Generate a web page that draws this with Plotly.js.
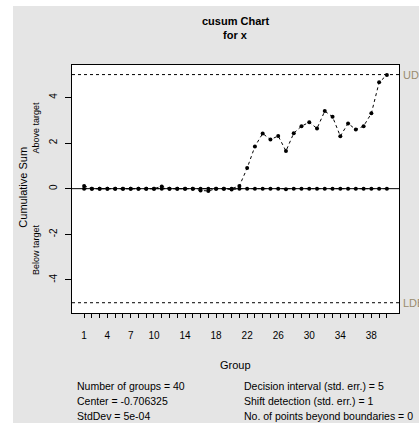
<!DOCTYPE html>
<html><head><meta charset="utf-8">
<script src="https://cdn.plot.ly/plotly-3.0.1.min.js"></script>
<style>html,body{margin:0;padding:0;background:#fff;}#wrap{position:absolute;left:13px;top:6px;width:406px;height:417px;}</style>
</head><body><div id="wrap"></div>
<script>
const groups = Array.from({length:40},(_,i)=>i+1);
const upperCusum = [0.12,0,0,0,0,0,0,0,0,0,0.1,0,0,0,0,0,0,0,0,0,0.12,0.9,1.85,2.42,2.15,2.31,1.65,2.43,2.74,2.91,2.64,3.40,3.15,2.30,2.86,2.59,2.74,3.30,4.66,4.98];
const lowerCusum = [0,0,0,0,0,0,0,0,0,0,0,0,0,0,0,-0.08,-0.1,0,0,-0.04,0,0,0,0,0,0,-0.03,0,0,0,0,0,0,0,0,0,0,0,0,0];
const tickLabels = {1:'1',4:'4',7:'7',10:'10',14:'14',18:'18',22:'22',26:'26',30:'30',34:'34',38:'38'};
const UDB = 5, LDB = -5, centerLine = 0;
const statsLeft = ['Number of groups = 40','Center = -0.706325','StdDev = 5e-04'];
const statsRight = ['Decision interval (std. err.) = 5','Shift detection (std. err.) = 1','No. of points beyond boundaries = 0'];

const F = 'Liberation Sans, Arial, sans-serif';
const traceStyle = {mode:'lines+markers', line:{color:'black', width:1, dash:'3px,3px'}, marker:{color:'black', size:4}, hoverinfo:'skip', showlegend:false, cliponaxis:false};
const data = [
  Object.assign({x:groups, y:upperCusum, type:'scatter'}, traceStyle),
  Object.assign({x:groups, y:lowerCusum, type:'scatter'}, traceStyle)
];
const statY = [-0.294,-0.355,-0.414];
function ann(o){ return Object.assign({xref:'paper', yref:'paper', showarrow:false, xanchor:'center', yanchor:'middle'}, o); }
const annotations = [
  ann({text:'<b>cusum Chart</b>', x:0.5, y:1.179, font:{family:F,size:11,color:'black'}}),
  ann({text:'<b>for x</b>', x:0.5, y:1.121, font:{family:F,size:11,color:'black'}}),
  ann({text:'Group', x:0.5, y:-0.21, font:{family:F,size:11,color:'black'}}),
  ann({text:'Cumulative Sum', x:-0.151, y:0.508, textangle:-90, font:{family:F,size:11,color:'black'}}),
  ann({text:'Above target', x:-0.110, y:0.748, textangle:-90, font:{family:F,size:9,color:'black'}}),
  ann({text:'Below target', x:-0.110, y:0.254, textangle:-90, font:{family:F,size:9,color:'black'}}),
  ann({text:'UDB', x:1.006, y:UDB, yref:'y', xanchor:'left', font:{family:F,size:11,color:'#9a8c6e'}}),
  ann({text:'LDB', x:1.006, y:LDB, yref:'y', xanchor:'left', font:{family:F,size:11,color:'#9a8c6e'}})
];
statsLeft.forEach((t,i)=>annotations.push(ann({text:t, x:0.009, y:statY[i], xanchor:'left', font:{family:F,size:10.5,color:'black'}})));
statsRight.forEach((t,i)=>annotations.push(ann({text:t, x:0.519, y:statY[i], xanchor:'left', font:{family:F,size:10.5,color:'black'}})));

const layout = {
  width:406, height:417,
  margin:{l:59, r:20, t:59, b:110},
  paper_bgcolor:'#e5e5e5', plot_bgcolor:'white',
  font:{family:F, size:10, color:'black'},
  xaxis:{range:[-0.56,41.56], tickvals:groups, ticktext:groups.map(g=>tickLabels[g]||''), ticks:'outside', ticklen:4, tickcolor:'black', showgrid:false, zeroline:false, showline:true, mirror:true, linecolor:'black', linewidth:1, ticklabelstandoff:9, tickfont:{family:F,size:10}, fixedrange:true},
  yaxis:{range:[-5.45,5.42], tickvals:[-4,-2,0,2,4], ticktext:['-4','-2','0','2','4'], tickangle:-90, ticks:'outside', ticklen:6, tickcolor:'black', showgrid:false, zeroline:false, showline:true, mirror:true, linecolor:'black', linewidth:1, ticklabelstandoff:4, tickfont:{family:F,size:10}, fixedrange:true},
  shapes:[
    {type:'line', xref:'paper', x0:0, x1:1, yref:'y', y0:centerLine, y1:centerLine, line:{color:'black', width:1}},
    {type:'line', xref:'paper', x0:0, x1:1, yref:'y', y0:UDB, y1:UDB, line:{color:'black', width:1, dash:'3px,3px'}},
    {type:'line', xref:'paper', x0:0, x1:1, yref:'y', y0:LDB, y1:LDB, line:{color:'black', width:1, dash:'3px,3px'}}
  ],
  annotations:annotations,
  showlegend:false
};
Plotly.newPlot('wrap', data, layout, {displayModeBar:false, staticPlot:true});
</script>
</body></html>
